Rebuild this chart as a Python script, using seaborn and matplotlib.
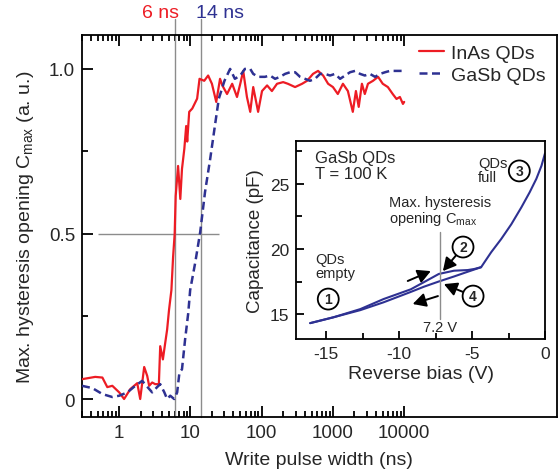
import matplotlib
matplotlib.use("Agg")
import matplotlib.pyplot as plt
from matplotlib.ticker import NullFormatter
import seaborn as sns

sns.set_style("ticks")
plt.rcParams['font.family'] = ['Liberation Sans', 'DejaVu Sans']
plt.rcParams['mathtext.fontset'] = 'custom'
plt.rcParams['mathtext.rm'] = 'Liberation Sans'
plt.rcParams['mathtext.it'] = 'Liberation Sans:italic'
plt.rcParams['axes.unicode_minus'] = False

# --- main panel: normalised hysteresis opening vs write pulse width ---
inas_t = [0.3, 0.46, 0.58, 0.68, 0.80, 1.0, 1.17, 1.43, 1.79, 1.97, 2.24, 2.47, 2.63,
          2.9, 3.2, 3.6, 3.76, 4.1, 4.4, 4.7, 5.0, 5.4, 5.7, 6.0, 6.2, 6.7, 7.2, 7.6,
          8.2, 8.7, 9.0, 9.6, 10.6, 12.4, 13.4, 15.6, 17.7, 20, 23, 26, 28, 32.6,
          38.5, 45, 50, 55, 62, 69, 76, 89, 101, 119, 139, 164, 200, 233, 294, 369,
          433, 525, 618, 728, 855, 1000, 1170, 1380, 1620, 1900, 2100, 2300, 2550,
          2800, 3100, 3650, 4300, 5000, 5900, 6900, 7800, 8700, 9600, 10000]
inas_c = [0.06, 0.067, 0.065, 0.036, 0.04, 0.02, 0.0, 0.03, 0.048, 0.0, 0.097, 0.07,
          0.04, 0.05, 0.045, 0.045, 0.16, 0.12, 0.167, 0.21, 0.27, 0.33, 0.43, 0.50,
          0.615, 0.706, 0.606, 0.697, 0.758, 0.827, 0.78, 0.87, 0.88, 0.91, 0.97,
          0.964, 0.98, 0.955, 0.90, 0.97, 0.95, 0.924, 0.955, 0.915, 0.955, 0.994,
          0.915, 0.87, 0.945, 0.87, 0.933, 0.95, 0.933, 0.955, 0.96, 0.955, 0.945,
          0.955, 0.964, 0.985, 0.994, 0.98, 0.955, 0.945, 0.924, 0.955, 0.933,
          0.87, 0.933, 0.885, 0.955, 0.924, 0.955, 0.964, 0.976, 0.955, 0.945,
          0.924, 0.909, 0.915, 0.894, 0.90]

gasb_t = [0.3, 0.42, 0.58, 0.80, 1.0, 1.3, 1.68, 2.1, 2.5, 2.9, 3.4, 3.76, 4.3, 4.7,
          5.2, 5.9, 6.5, 7.0, 7.6, 8.4, 9.3, 9.9, 11.7, 13.7, 16, 18.9, 22, 25,
          30, 36, 42, 50, 58, 69, 76, 89, 111, 131, 154, 181, 213, 250, 294, 345,
          405, 475, 560, 660, 770, 910, 1070, 1260, 1480, 1740, 2040, 2400, 2800,
          3300, 3900, 4600, 5400, 6300, 7400, 8700, 10000]
gasb_c = [0.04, 0.033, 0.015, 0.006, 0.01, 0.02, 0.04, 0.055, 0.036, 0.02, 0.036,
          0.045, 0.02, 0.0, 0.01, 0.0, 0.02, 0.08, 0.09, 0.18, 0.26, 0.33, 0.415,
          0.506, 0.627, 0.727, 0.827, 0.91, 0.964, 1.0, 0.97, 0.98, 1.0, 1.0, 0.985,
          0.976, 0.976, 0.98, 0.97, 0.976, 0.985, 0.99, 0.99, 0.976, 0.97, 0.964,
          0.97, 0.985, 0.985, 0.98, 0.985, 0.97, 0.98, 0.99, 0.994, 0.985, 0.98,
          0.985, 0.976, 0.985, 0.99, 0.994, 0.994, 0.994, 0.994]

thresholds = [6, 14]
threshold_labels = ['6 ns', '14 ns']
half_level = 0.5
half_span = [0.5, 25]

# --- inset: C-V hysteresis of GaSb QDs at 100 K ---
fwd_v = [-16.1, -14.5, -12.66, -11.07, -9.2, -8.3, -7.28, -6.24, -5.3, -4.86, -4.38,
         -3.69, -3.0, -2.31, -1.62, -1.05, -0.59, -0.24, 0.0]
fwd_c = [14.3, 14.75, 15.38, 16.15, 16.9, 17.45, 18.08, 18.33, 18.38, 18.46, 18.6,
         19.75, 20.77, 21.9, 23.2, 24.36, 25.4, 26.4, 27.35]
back_v = [-4.38, -5.3, -6.2, -7.28, -8.3, -9.2, -11.07, -12.66, -14.5, -16.1]
back_c = [18.6, 18.25, 17.9, 17.5, 17.1, 16.7, 15.9, 15.3, 14.75, 14.3]
cmax_bias = -7.2

RED = '#ed1c24'
NAVY = '#2e3192'
GRAY = '#8c8c8c'

fig = plt.figure(figsize=(5.6, 4.77), dpi=100)
ax = fig.add_axes([0.1464, 0.1237, 0.848, 0.801])
ax.set_xscale('log')

sns.lineplot(x=inas_t, y=inas_c, ax=ax, color=RED, lw=1.6, sort=False, zorder=3)
sns.lineplot(x=gasb_t, y=gasb_c, ax=ax, color=NAVY, lw=1.8, sort=False, zorder=3)
l_inas, l_gasb = ax.lines[0], ax.lines[1]
l_gasb.set_dashes((3.2, 1.8))

for t, lab, c, dx in zip(thresholds, threshold_labels, [RED, NAVY], [-10, 13.5]):
    ax.axvline(t, ymin=0, ymax=1.042, color=GRAY, lw=1.0, clip_on=False, zorder=2)
    ax.annotate(lab, xy=(t, 1.058), xycoords=('data', 'axes fraction'),
                xytext=(dx, 0), textcoords='offset points', ha='center', va='center',
                color=c, fontsize=14)
ax.hlines(half_level, half_span[0], half_span[1], color=GRAY, lw=1.0, zorder=2)

ax.set_xlim(0.303, 1.39e6)
ax.set_ylim(-0.0545, 1.103)
ax.set_xticks([1, 10, 100, 1000, 10000])
ax.set_xticklabels(['1', '10', '100', '1000', '10000'])
minor = [m / 10 for m in range(3, 10)] + [m * 10 ** k for k in range(4) for m in range(2, 10)]
ax.set_xticks(minor, minor=True)
ax.xaxis.set_minor_formatter(NullFormatter())
ax.set_yticks([0, 0.5, 1.0])
ax.set_yticklabels(['0', '0.5', '1.0'])
ax.set_yticks([0.25, 0.75], minor=True)
ax.tick_params(which='both', direction='in', top=True, right=False, width=1.3,
               labelsize=13.5, pad=5, color='black')
ax.tick_params(which='major', length=8)
ax.tick_params(which='minor', length=4.5)
for s in ax.spines.values():
    s.set_linewidth(1.3)
    s.set_color('black')
ax.set_xlabel('Write pulse width (ns)', fontsize=14, labelpad=7)
ax.set_ylabel(r'Max. hysteresis opening C$_{\mathregular{max}}$ (a. u.)', fontsize=14,
              labelpad=9)
ax.legend([l_inas, l_gasb], ['InAs QDs', 'GaSb QDs'], loc='upper left',
          bbox_to_anchor=(0.71, 0.975), frameon=False, fontsize=14, handlelength=1.3,
          handletextpad=0.35, labelspacing=0.2, borderaxespad=0, borderpad=0)

# inset
ins = fig.add_axes([0.5286, 0.2872, 0.4446, 0.4151])
sns.lineplot(x=fwd_v, y=fwd_c, ax=ins, color=NAVY, lw=1.5, sort=False)
sns.lineplot(x=back_v, y=back_c, ax=ins, color=NAVY, lw=1.5, sort=False)
ins.set_xlim(-17.07, 0)
ins.set_ylim(13.08, 28.3)
ins.set_xticks([-15, -10, -5, 0])
ins.set_xticks([-12.5, -7.5, -2.5], minor=True)
ins.set_yticks([15, 20, 25])
ins.set_yticks([17.5, 22.5, 27.5], minor=True)
ins.tick_params(which='both', direction='in', width=1.3, labelsize=12.5, pad=5,
                color='black')
ins.tick_params(which='major', length=6)
ins.tick_params(which='minor', length=4.5)
for s in ins.spines.values():
    s.set_linewidth(1.3)
    s.set_color('black')
ins.set_xlabel('Reverse bias (V)', fontsize=14, labelpad=3)
ins.set_ylabel('Capacitance (pF)', fontsize=13.5, labelpad=4)

ins.plot([cmax_bias, cmax_bias], [14.6, 21.3], color=GRAY, lw=1.0)
ins.text(cmax_bias, 14.0, '7.2 V', ha='center', va='center', fontsize=10.5)
ins.text(-15.76, 26.4, 'GaSb QDs\nT = 100 K', ha='left', va='center', fontsize=12,
         linespacing=1.05)
ins.text(-4.59, 26.05, 'QDs\nfull', ha='left', va='center', fontsize=10.5,
         linespacing=1.0)
ins.text(-15.76, 18.7, 'QDs\nempty', ha='left', va='center', fontsize=10.5,
         linespacing=1.0)
ins.text(-10.72, 22.9, 'Max. hysteresis\nopening C$_{\\mathregular{max}}$', ha='left',
         va='center', fontsize=10.5, linespacing=1.0)

circ = dict(boxstyle='circle,pad=0.25', fc='white', ec='black', lw=1.3)
arr = dict(arrowstyle='-|>,head_length=0.6,head_width=0.32', color='black', lw=1.4,
           shrinkA=0, shrinkB=0, mutation_scale=13)
ins.text(-14.86, 16.15, '1', ha='center', va='center', fontsize=10, fontweight='bold',
         bbox=circ)
ins.text(-1.76, 26.0, '3', ha='center', va='center', fontsize=10, fontweight='bold',
         bbox=circ)
ins.annotate('2', xy=(-7.0, 18.3), xytext=(-5.62, 20.15), ha='center', va='center',
             fontsize=10, fontweight='bold', bbox=circ, arrowprops=arr)
ins.annotate('4', xy=(-6.93, 17.3), xytext=(-4.93, 16.38), ha='center', va='center',
             fontsize=10, fontweight='bold', bbox=circ, arrowprops=arr)
ins.annotate('', xy=(-7.83, 18.3), xytext=(-9.41, 17.54), arrowprops=arr)
ins.annotate('', xy=(-9.07, 15.77), xytext=(-7.34, 16.38), arrowprops=arr)

fig.savefig('out.png', dpi=100)
